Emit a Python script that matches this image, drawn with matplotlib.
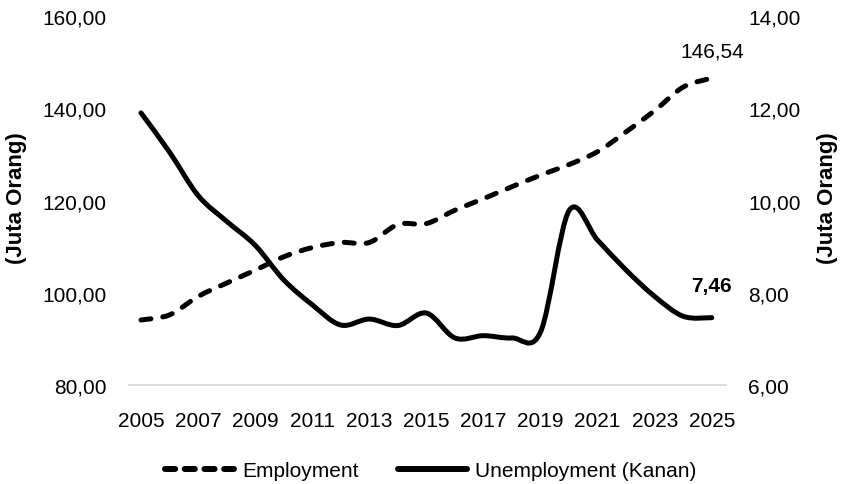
import matplotlib
matplotlib.use('Agg')
import matplotlib.pyplot as plt
from matplotlib.path import Path
from matplotlib.patches import PathPatch
from matplotlib.lines import Line2D
import numpy as np

# ---------------- data ----------------
years = list(range(2005, 2026))
employment = [94.1, 95.2, 99.2, 102.1, 104.9, 107.8, 109.8, 110.9, 110.9, 114.8,
              115.0, 117.9, 120.4, 123.0, 125.5, 127.8, 130.6, 134.9, 139.5, 144.6, 146.54]
unemployment = [11.90, 11.05, 10.11, 9.55, 9.03, 8.28, 7.74, 7.30, 7.43, 7.29,
                7.56, 7.02, 7.07, 7.02, 7.15, 9.78, 9.14, 8.49, 7.92, 7.49, 7.46]
left_ticks = [80, 100, 120, 140, 160]
right_ticks = [6, 8, 10, 12, 14]
xtick_years = list(range(2005, 2026, 2))
series_labels = ["Employment", "Unemployment (Kanan)"]
axis_label = "(Juta Orang)"

plt.rcParams['font.family'] = ['Liberation Sans', 'DejaVu Sans']


def smooth_path(x, y):
    """Excel-like smoothed line as cubic Bezier segments (Catmull-Rom)."""
    x = np.asarray(x, float)
    y = np.asarray(y, float)
    n = len(x)
    verts = [(x[0], y[0])]
    codes = [Path.MOVETO]
    for i in range(n - 1):
        p0 = i - 1 if i > 0 else i
        p3 = i + 2 if i + 2 < n else i + 1
        c1 = (x[i] + (x[i + 1] - x[p0]) / 6.0, y[i] + (y[i + 1] - y[p0]) / 6.0)
        c2 = (x[i + 1] - (x[p3] - x[i]) / 6.0, y[i + 1] - (y[p3] - y[i]) / 6.0)
        verts += [c1, c2, (x[i + 1], y[i + 1])]
        codes += [Path.CURVE4] * 3
    return Path(verts, codes)


fig = plt.figure(figsize=(8.41, 4.85), dpi=100)
ax = fig.add_axes([0.1534, 0.2041, 0.7099, 0.7608])
ax2 = ax.twinx()

LW = 3.6
dash_style = (0, (2.0, 2.4))

emp_patch = PathPatch(smooth_path(years, employment), fill=False, edgecolor='black',
                      linewidth=LW, linestyle=dash_style, capstyle='round', joinstyle='round')
ax.add_patch(emp_patch)
unemp_patch = PathPatch(smooth_path(years, unemployment), fill=False, edgecolor='black',
                        linewidth=LW, capstyle='round', joinstyle='round')
ax2.add_patch(unemp_patch)

ax.set_xlim(2004.58, 2025.5)
ax.set_ylim(left_ticks[0], left_ticks[-1])
ax2.set_ylim(right_ticks[0], right_ticks[-1])

ax.set_xticks(xtick_years)
ax.set_xticklabels([str(y) for y in xtick_years])
ax.set_yticks(left_ticks)
ax.set_yticklabels([f"{v:.2f}".replace('.', ',') for v in left_ticks])
ax2.set_yticks(right_ticks)
ax2.set_yticklabels([f"{v:.2f}".replace('.', ',') for v in right_ticks])

for a in (ax, ax2):
    for s in a.spines.values():
        s.set_visible(False)
    a.tick_params(length=0, labelsize=15, colors='black')
ax.spines['bottom'].set_visible(True)
ax.spines['bottom'].set_color('#d9d9d9')
ax.spines['bottom'].set_linewidth(1.3)
ax.tick_params(axis='x', pad=19)
ax.tick_params(axis='y', pad=16)
ax2.tick_params(axis='y', pad=16)

fig.text(0.0196, 0.592, axis_label, rotation=90, ha='center', va='center',
         fontsize=16, fontweight='bold')
fig.text(0.9845, 0.592, axis_label, rotation=90, ha='center', va='center',
         fontsize=16, fontweight='bold')

ax.annotate(f"{employment[-1]:.2f}".replace('.', ','), xy=(years[-1], employment[-1]),
            xytext=(0, 15.5), textcoords='offset points', ha='center', va='baseline',
            fontsize=15)
ax2.annotate(f"{unemployment[-1]:.2f}".replace('.', ','), xy=(years[-1], unemployment[-1]),
             xytext=(0, 19), textcoords='offset points', ha='center', va='baseline',
             fontsize=15, fontweight='bold')

handles = [Line2D([], [], color='black', lw=4.3, linestyle=(0, (1.7, 1.6)),
                  dash_capstyle='round'),
           Line2D([], [], color='black', lw=4.3, solid_capstyle='round')]
fig.legend(handles, series_labels, loc='center', bbox_to_anchor=(0.512, 0.027), ncol=2,
           frameon=False, fontsize=15, handlelength=3.3, handletextpad=0.4,
           columnspacing=1.9)

fig.savefig('out.png', dpi=100)
